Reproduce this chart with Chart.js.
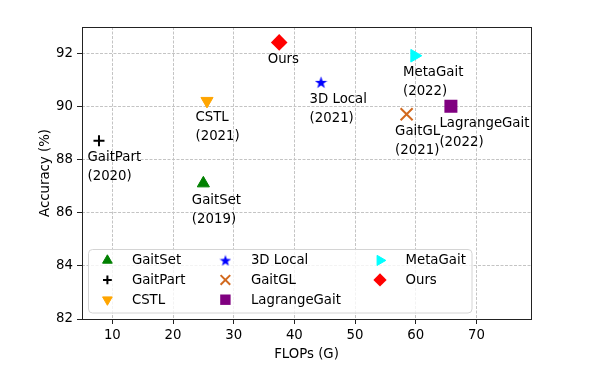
<!DOCTYPE html>
<html>
<head>
<meta charset="utf-8">
<script src="https://cdn.jsdelivr.net/npm/chart.js@4.4.1/dist/chart.umd.min.js"></script>
<style>
  html, body { margin: 0; padding: 0; background: #fff; }
  canvas { display: block; }
</style>
</head>
<body>
<canvas id="chart" width="593" height="370"></canvas>
<script>
const methods = ['GaitSet', 'GaitPart', 'CSTL', '3D Local', 'GaitGL', 'LagrangeGait', 'MetaGait', 'Ours'];
const years = ['2019', '2020', '2021', '2021', '2021', '2022', '2022', ''];
const flops = [25.0, 7.8, 25.6, 44.4, 58.5, 65.8, 59.8, 37.5];
const accuracy = [87.1, 88.7, 90.2, 90.9, 89.7, 90.0, 91.9, 92.4];
const xTicks = [10, 20, 30, 40, 50, 60, 70];
const yTicks = [82, 84, 86, 88, 90, 92];

const FONT = '"DejaVu Sans", sans-serif';

// filled five-point star, Chart.js 'star' is only lines
function starImage(size, color) {
  const c = document.createElement('canvas');
  c.width = size; c.height = size;
  const g = c.getContext('2d');
  const r = size / 2, ri = r * 0.4;
  g.beginPath();
  for (let i = 0; i < 10; i++) {
    const a = -Math.PI / 2 + i * Math.PI / 5;
    const rr = i % 2 === 0 ? r : ri;
    g.lineTo(r + Math.cos(a) * rr, r + 0.5 + Math.sin(a) * rr);
  }
  g.closePath();
  g.fillStyle = color;
  g.fill();
  return c;
}

const markers = [
  { style: 'triangle', rotation: 0, radius: 7, color: 'green', width: 1 },
  { style: 'cross', rotation: 0, radius: 5.5, color: 'black', width: 2 },
  { style: 'triangle', rotation: 180, radius: 7, color: 'orange', width: 1 },
  { style: starImage(13, 'blue'), legendStyle: starImage(12, 'blue'), rotation: 0, radius: 6, color: 'blue', width: 0 },
  { style: 'crossRot', rotation: 0, radius: 8.5, color: 'chocolate', width: 2 },
  { style: 'rect', rotation: 0, radius: 9.2, color: 'purple', width: 0 },
  { style: 'triangle', rotation: 90, radius: 7.3, color: 'cyan', width: 1 },
  { style: 'rectRot', rotation: 0, radius: 8.3, color: 'red', width: 0 }
];

const datasets = methods.map((m, i) => ({
  label: m,
  data: [{ x: flops[i], y: accuracy[i] }],
  pointStyle: markers[i].style,
  rotation: markers[i].rotation,
  pointRadius: markers[i].radius,
  pointHoverRadius: markers[i].radius,
  backgroundColor: markers[i].color,
  borderColor: markers[i].color,
  borderWidth: markers[i].width
}));

const labelPlugin = {
  id: 'pointLabels',
  afterDatasetsDraw(chart) {
    const { ctx, scales: { x, y } } = chart;
    ctx.save();
    ctx.font = '13.3px ' + FONT;
    ctx.fillStyle = '#000';
    ctx.textBaseline = 'middle';
    ctx.textAlign = 'left';
    methods.forEach((m, i) => {
      const px = x.getPixelForValue(flops[i]);
      const py = y.getPixelForValue(accuracy[i]);
      const lines = years[i] ? [m, '(' + years[i] + ')'] : [m];
      lines.forEach((t, k) => ctx.fillText(t, px - 11.5, py + 17 + k * 18.9));
    });
    ctx.restore();
  }
};

const framePlugin = {
  id: 'frameAndLegend',
  afterDraw(chart) {
    const { ctx, chartArea: ca } = chart;
    ctx.save();
    // axes frame
    ctx.strokeStyle = '#222';
    ctx.lineWidth = 1;
    ctx.strokeRect(Math.round(ca.left) + 0.5, Math.round(ca.top) + 0.5,
      Math.round(ca.right - ca.left), Math.round(ca.bottom - ca.top));

    // legend, 3 columns filled column by column
    const bw = 383.5, bh = 63.5;
    const bx = ca.left + 6, by = ca.bottom - 6.5 - bh;
    ctx.beginPath();
    ctx.roundRect(bx + 0.5, by + 0.5, bw, bh, 4);
    ctx.fillStyle = 'rgba(255,255,255,0.8)';
    ctx.fill();
    ctx.strokeStyle = '#d4d4d4';
    ctx.stroke();

    const colMarker = [19.4, 137.4, 292];
    const colText = [43.9, 162.9, 317.5];
    const rows = [11.4, 30.9, 50.7];
    ctx.font = '13.3px ' + FONT;
    ctx.textBaseline = 'middle';
    ctx.textAlign = 'left';
    methods.forEach((m, i) => {
      const col = Math.floor(i / 3), row = i % 3;
      const mk = markers[i];
      const yy = by + rows[row];
      ctx.fillStyle = mk.color;
      ctx.strokeStyle = mk.color;
      ctx.lineWidth = mk.width;
      Chart.helpers.drawPoint(ctx, {
        pointStyle: mk.legendStyle || mk.style,
        rotation: mk.rotation,
        radius: mk.radius * 0.8,
        borderWidth: mk.width
      }, bx + colMarker[col], yy);
      ctx.fillStyle = '#000';
      ctx.fillText(m, bx + colText[col], yy + 0.5);
    });
    ctx.restore();
  }
};

new Chart(document.getElementById('chart'), {
  type: 'scatter',
  data: { datasets },
  options: {
    responsive: false,
    animation: false,
    devicePixelRatio: 1,
    layout: { padding: { top: 27, right: 62, left: 0, bottom: 0 } },
    plugins: {
      legend: { display: false },
      tooltip: { enabled: false }
    },
    scales: {
      x: {
        type: 'linear',
        min: 5,
        max: 79,
        afterFit: (s) => { s.height = 51; },
        afterBuildTicks: (s) => { s.ticks = xTicks.map(v => ({ value: v })); },
        grid: {
          color: '#c4c4c4',
          lineWidth: 1,
          tickLength: 5,
          tickColor: '#222',
          tickBorderDash: [],
          tickWidth: 1
        },
        border: { display: false, dash: [3, 1.5] },
        ticks: { color: '#000', font: { family: FONT, size: 13.3 }, padding: 4, maxRotation: 0 },
        title: {
          display: true,
          text: 'FLOPs (G)',
          color: '#000',
          font: { family: FONT, size: 13.3 },
          padding: { top: 0, bottom: 7.5 }
        }
      },
      y: {
        type: 'linear',
        min: 82,
        max: 92.98,
        afterFit: (s) => { s.width = 82; },
        afterBuildTicks: (s) => { s.ticks = yTicks.map(v => ({ value: v })); },
        grid: {
          color: '#c4c4c4',
          lineWidth: 1,
          tickLength: 5,
          tickColor: '#222',
          tickBorderDash: [],
          tickWidth: 1
        },
        border: { display: false, dash: [3, 1.5] },
        ticks: { color: '#000', font: { family: FONT, size: 13.3 }, padding: 4 },
        title: {
          display: true,
          text: 'Accuracy (%)',
          color: '#000',
          font: { family: FONT, size: 13.3 },
          padding: { top: 38, bottom: 0 }
        }
      }
    }
  },
  plugins: [labelPlugin, framePlugin]
});
</script>
</body>
</html>
